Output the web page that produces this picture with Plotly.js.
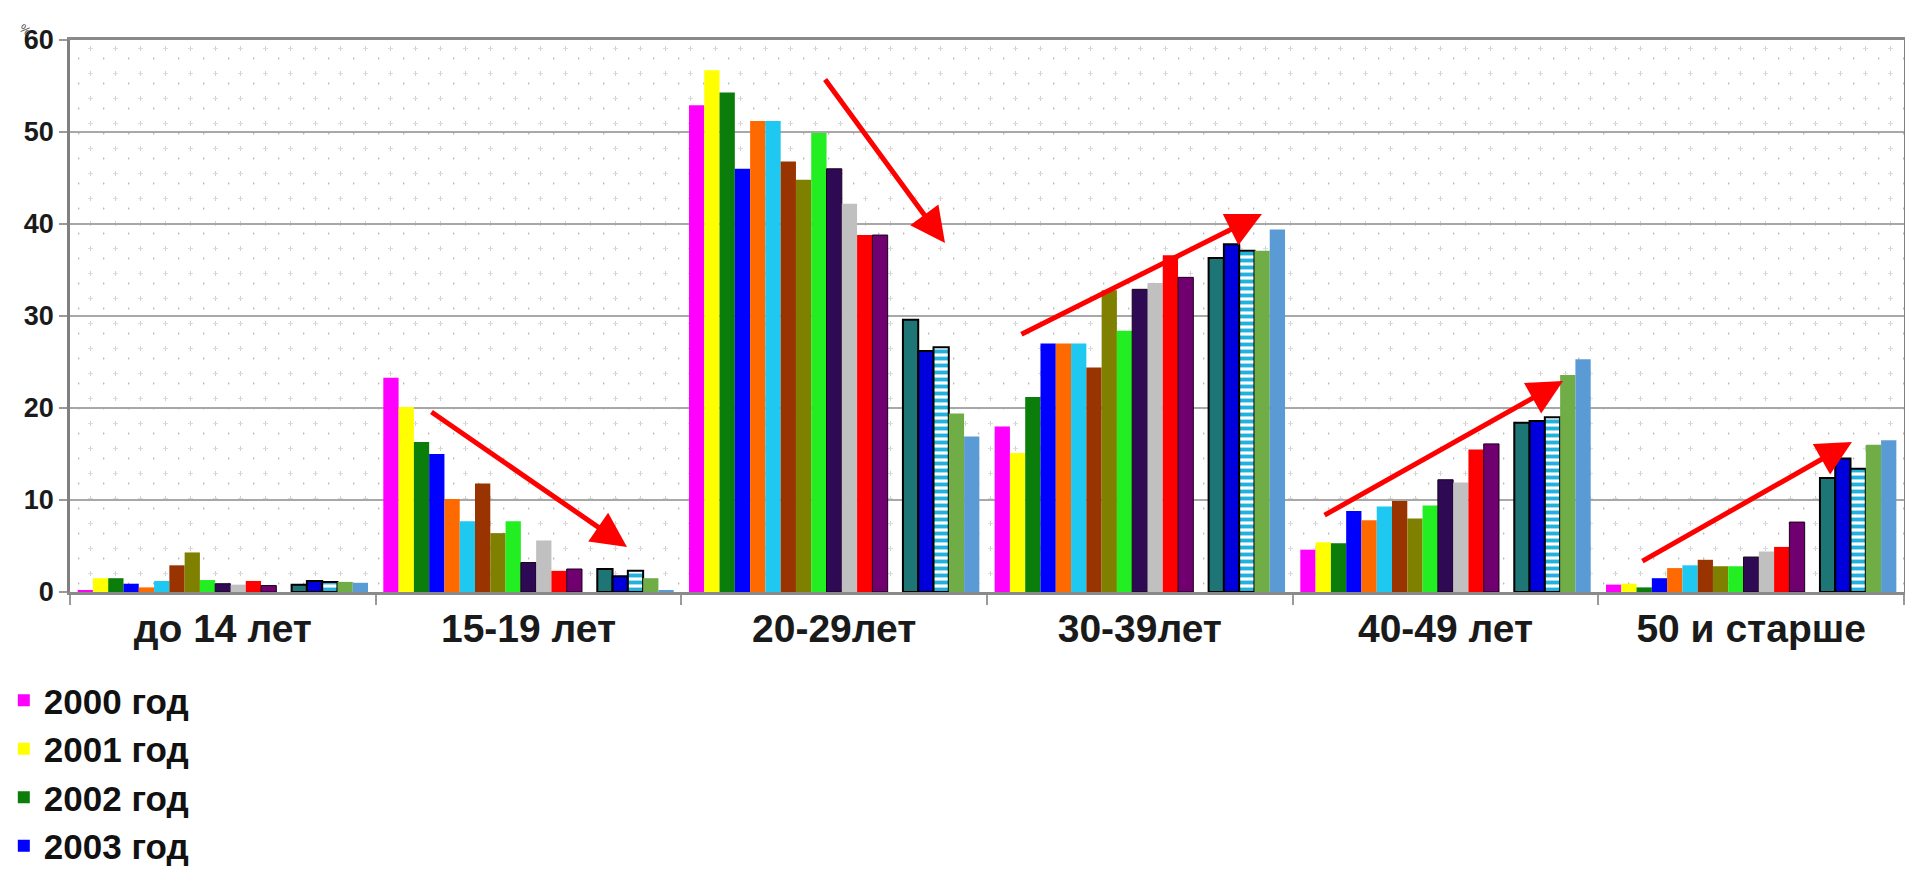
<!DOCTYPE html>
<html>
<head>
<meta charset="utf-8">
<script src="https://cdn.plot.ly/plotly-3.0.1.min.js"></script>
<style>
html,body{margin:0;padding:0;overflow:hidden;background:#fff;}
#chart{width:1905px;height:876px;}
</style>
</head>
<body>
<div id="chart"></div>
<script>
// Categories (age groups)
const categories = ["до 14 лет", "15-19 лет", "20-29лет", "30-39лет", "40-49 лет", "50 и старше"];

// Series names
const seriesNames = ["2000 год","2001 год","2002 год","2003 год","2004 год","2005 год","2006 год",
  "2007 год","2008 год","2009 год","2010 год","2011 год","2012 год","2013 год","2014 год",
  "2015 год","2016 год","2017 год","2018 год"];

// Values per series (one value per age group)
const v2000 = [0.2, 23.3, 52.9, 18.0, 4.6, 0.8];
const v2001 = [1.5, 20.1, 56.7, 15.1, 5.4, 0.9];
const v2002 = [1.5, 16.3, 54.3, 21.2, 5.3, 0.5];
const v2003 = [0.9, 15.0, 46.0, 27.0, 8.8, 1.5];
const v2004 = [0.5, 10.1, 51.2, 27.0, 7.8, 2.6];
const v2005 = [1.2, 7.7, 51.2, 27.0, 9.3, 2.9];
const v2006 = [2.9, 11.8, 46.8, 24.4, 9.9, 3.5];
const v2007 = [4.3, 6.4, 44.8, 32.8, 8.0, 2.8];
const v2008 = [1.3, 7.7, 49.9, 28.4, 9.4, 2.8];
const v2009 = [0.9, 3.2, 46.0, 32.9, 12.2, 3.8];
const v2010 = [0.8, 5.6, 42.2, 33.6, 11.9, 4.4];
const v2011 = [1.2, 2.3, 38.8, 36.6, 15.5, 4.9];
const v2012 = [0.7, 2.5, 38.8, 34.2, 16.1, 7.6];
const v2013 = [null, null, null, null, null, null];
const v2014 = [0.8, 2.5, 29.6, 36.3, 18.4, 12.4];
const v2015 = [1.2, 1.7, 26.2, 37.8, 18.6, 14.5];
const v2016 = [1.1, 2.3, 26.6, 37.1, 19.0, 13.4];
const v2017 = [1.1, 1.5, 19.4, 37.1, 23.6, 16.0];
const v2018 = [1.0, 0.2, 16.9, 39.4, 25.3, 16.5];

const seriesValues = [v2000,v2001,v2002,v2003,v2004,v2005,v2006,v2007,v2008,v2009,
  v2010,v2011,v2012,v2013,v2014,v2015,v2016,v2017,v2018];

// only the first legend entries are visible in the reference picture
const legendVisibleCount = 4;

const colors = ['#ff00ff','#ffff00','#0a7d0a','#0000ff','#ff6a00','#1ec8f0','#993300',
  '#808000','#22ee22','#2e0a55','#c0c0c0','#ff0000','#700070','#ffffff','#1d7575',
  '#0000dd','#22b0dd','#70ad47','#5b9bd5'];

const FONT = '"Liberation Sans", Arial, sans-serif';

const traces = seriesNames.map((name, i) => {
  const marker = {color: colors[i], line: {width: 0}};
  if (i === 9 || i === 12) marker.line = {width: 1, color: '#1a001a'};
  if (i === 14 || i === 15) marker.line = {width: 2, color: '#000000'};
  if (i === 16) {
    marker.line = {width: 2, color: '#000000'};
    marker.pattern = {shape: '-', fgcolor: '#22b0dd', bgcolor: '#ffffff', size: 7, solidity: 0.55};
  }
  return {type: 'bar', name: name, x: categories, y: seriesValues[i], marker: marker,
          showlegend: i < legendVisibleCount, hoverinfo: 'name+y'};
});

// dotted background pattern for the plot area
const W = 1834, Hp = 552;
const svg = `<svg xmlns="http://www.w3.org/2000/svg" width="${W}" height="${Hp}">
<defs><pattern id="p" width="25" height="25" patternUnits="userSpaceOnUse" x="8" y="6">
<circle cx="0.5" cy="12.5" r="1" fill="#b8b8b8"/>
<rect x="12" y="0" width="1" height="5" fill="#d0d0d0"/><rect x="10" y="2" width="5" height="1" fill="#dcdcdc"/>
</pattern></defs><rect width="${W}" height="${Hp}" fill="url(#p)"/></svg>`;
const bgImage = 'data:image/svg+xml;base64,' + btoa(svg);

function arrow(x, y, ax, ay) {
  return {xref: 'paper', yref: 'paper', x: x, y: y, ax: ax, ay: ay, text: '',
          showarrow: true, arrowhead: 2, arrowsize: 1.4, arrowwidth: 5,
          arrowcolor: '#ff0000', standoff: 0};
}

const H = 876;
const layout = {
  width: 1905, height: H,
  margin: {l: 70, r: 1, t: 40, b: H - 592, autoexpand: false},
  paper_bgcolor: '#ffffff', plot_bgcolor: '#ffffff',
  barmode: 'group', bargap: 0.05, bargroupgap: 0,
  font: {family: FONT, color: '#1a1a1a'},
  xaxis: {
    type: 'category', tickson: 'boundaries', ticks: 'outside', ticklen: 10,
    tickcolor: '#9a9a9a', tickwidth: 1.5,
    showline: true, mirror: true, linecolor: '#8a8a8a', linewidth: 2.5,
    tickfont: {family: FONT, size: 39, color: '#1a1a1a', weight: 'bold'},
    showgrid: false, fixedrange: true
  },
  yaxis: {
    range: [0, 60], dtick: 10, tick0: 0,
    ticks: 'outside', ticklen: 8, tickcolor: '#9a9a9a', tickwidth: 1.5,
    showline: true, mirror: true, linecolor: '#808080', linewidth: 2.5,
    gridcolor: '#a8a8a8', gridwidth: 2, zeroline: false,
    tickfont: {family: FONT, size: 27, color: '#1a1a1a', weight: 'bold'},
    fixedrange: true
  },
  legend: {
    xref: 'container', yref: 'container', x: 0.002, y: 1 - 671 / H,
    xanchor: 'left', yanchor: 'top', orientation: 'v',
    font: {family: FONT, size: 35, color: '#111111', weight: 'bold'},
    itemwidth: 30, tracegroupgap: 0, bgcolor: 'rgba(0,0,0,0)', maxheight: 1000
  },
  images: [{source: bgImage, xref: 'paper', yref: 'paper', x: 0, y: 1,
            sizex: 1, sizey: 1, sizing: 'stretch', xanchor: 'left', yanchor: 'top',
            layer: 'below'}],
  annotations: [
    arrow(0.3037, 0.0815, -197, -136),
    arrow(0.4771, 0.6322, -121, -165),
    arrow(0.6499, 0.6848, -242, 121),
    arrow(0.8141, 0.3822, -240, 135),
    arrow(0.9716, 0.2717, -211, 120),
    {xref: 'paper', yref: 'paper', x: -0.0305, y: 1.04, text: '%', showarrow: false,
     textangle: 35, font: {family: FONT, size: 12, color: '#444'}}
  ]
};

Plotly.newPlot('chart', traces, layout, {displayModeBar: false, responsive: false});
</script>
</body>
</html>
